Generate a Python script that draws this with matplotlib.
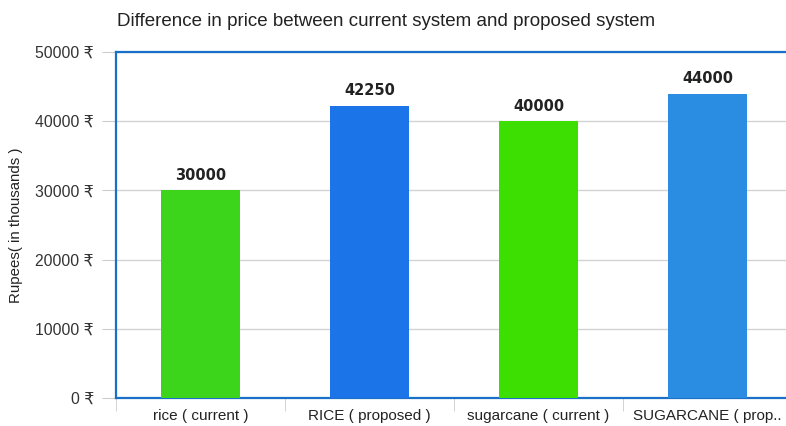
import matplotlib.pyplot as plt
import numpy as np

plt.rcParams['font.family'] = ['Liberation Sans', 'DejaVu Sans']

categories = ["rice ( current )", "RICE ( proposed )", "sugarcane ( current )", "SUGARCANE ( prop.."]
prices = [30000, 42250, 40000, 44000]
bar_colors = ["#3dd51b", "#1b74e8", "#3ddf02", "#2a8de2"]
y_ticks = [0, 10000, 20000, 30000, 40000, 50000]

fig = plt.figure(figsize=(7.86, 4.26), dpi=100)
ax = fig.add_axes([116 / 786, 28 / 426, 676 / 786, 346 / 426])

x = np.arange(len(categories))
ax.bar(x, prices, width=0.47, color=bar_colors, zorder=3)

# value labels above bars (wider bold face to match the stretched look)
for xi, v in zip(x, prices):
    ax.text(xi, v + 1100, str(v), ha="center", va="bottom",
            fontsize=10.5, fontweight="bold", color="#222222", family="DejaVu Sans")

ax.set_xlim(-0.5, 3.5)
ax.set_ylim(0, 50000)

ax.set_yticks(y_ticks)
ax.set_yticklabels([f"{t} ₹" for t in y_ticks], fontsize=11.3, color="#333333")
ax.tick_params(axis="y", length=10, color="#cccccc", pad=6)
ax.grid(axis="y", color="#d3d3d3", linewidth=1, zorder=0)

ax.set_xticks(x)
ax.set_xticklabels(categories, fontsize=11, color="#222222")
ax.set_xticks(np.arange(-0.5, 4, 1), minor=True)
ax.tick_params(axis="x", which="major", length=0, pad=8)
ax.tick_params(axis="x", which="minor", length=9, color="#cccccc")

for side in ["left", "top", "bottom"]:
    ax.spines[side].set_color("#1a70c8")
    ax.spines[side].set_linewidth(1.6)
ax.spines["right"].set_visible(False)

ax.set_ylabel("Rupees( in thousands )", fontsize=10.8, color="#222222", labelpad=9)
fig.text(117 / 786, 1 - 21 / 426, "Difference in price between current system and proposed system",
         fontsize=13.5, color="#222222", va="center", ha="left")

fig.savefig("out.png", dpi=100)
